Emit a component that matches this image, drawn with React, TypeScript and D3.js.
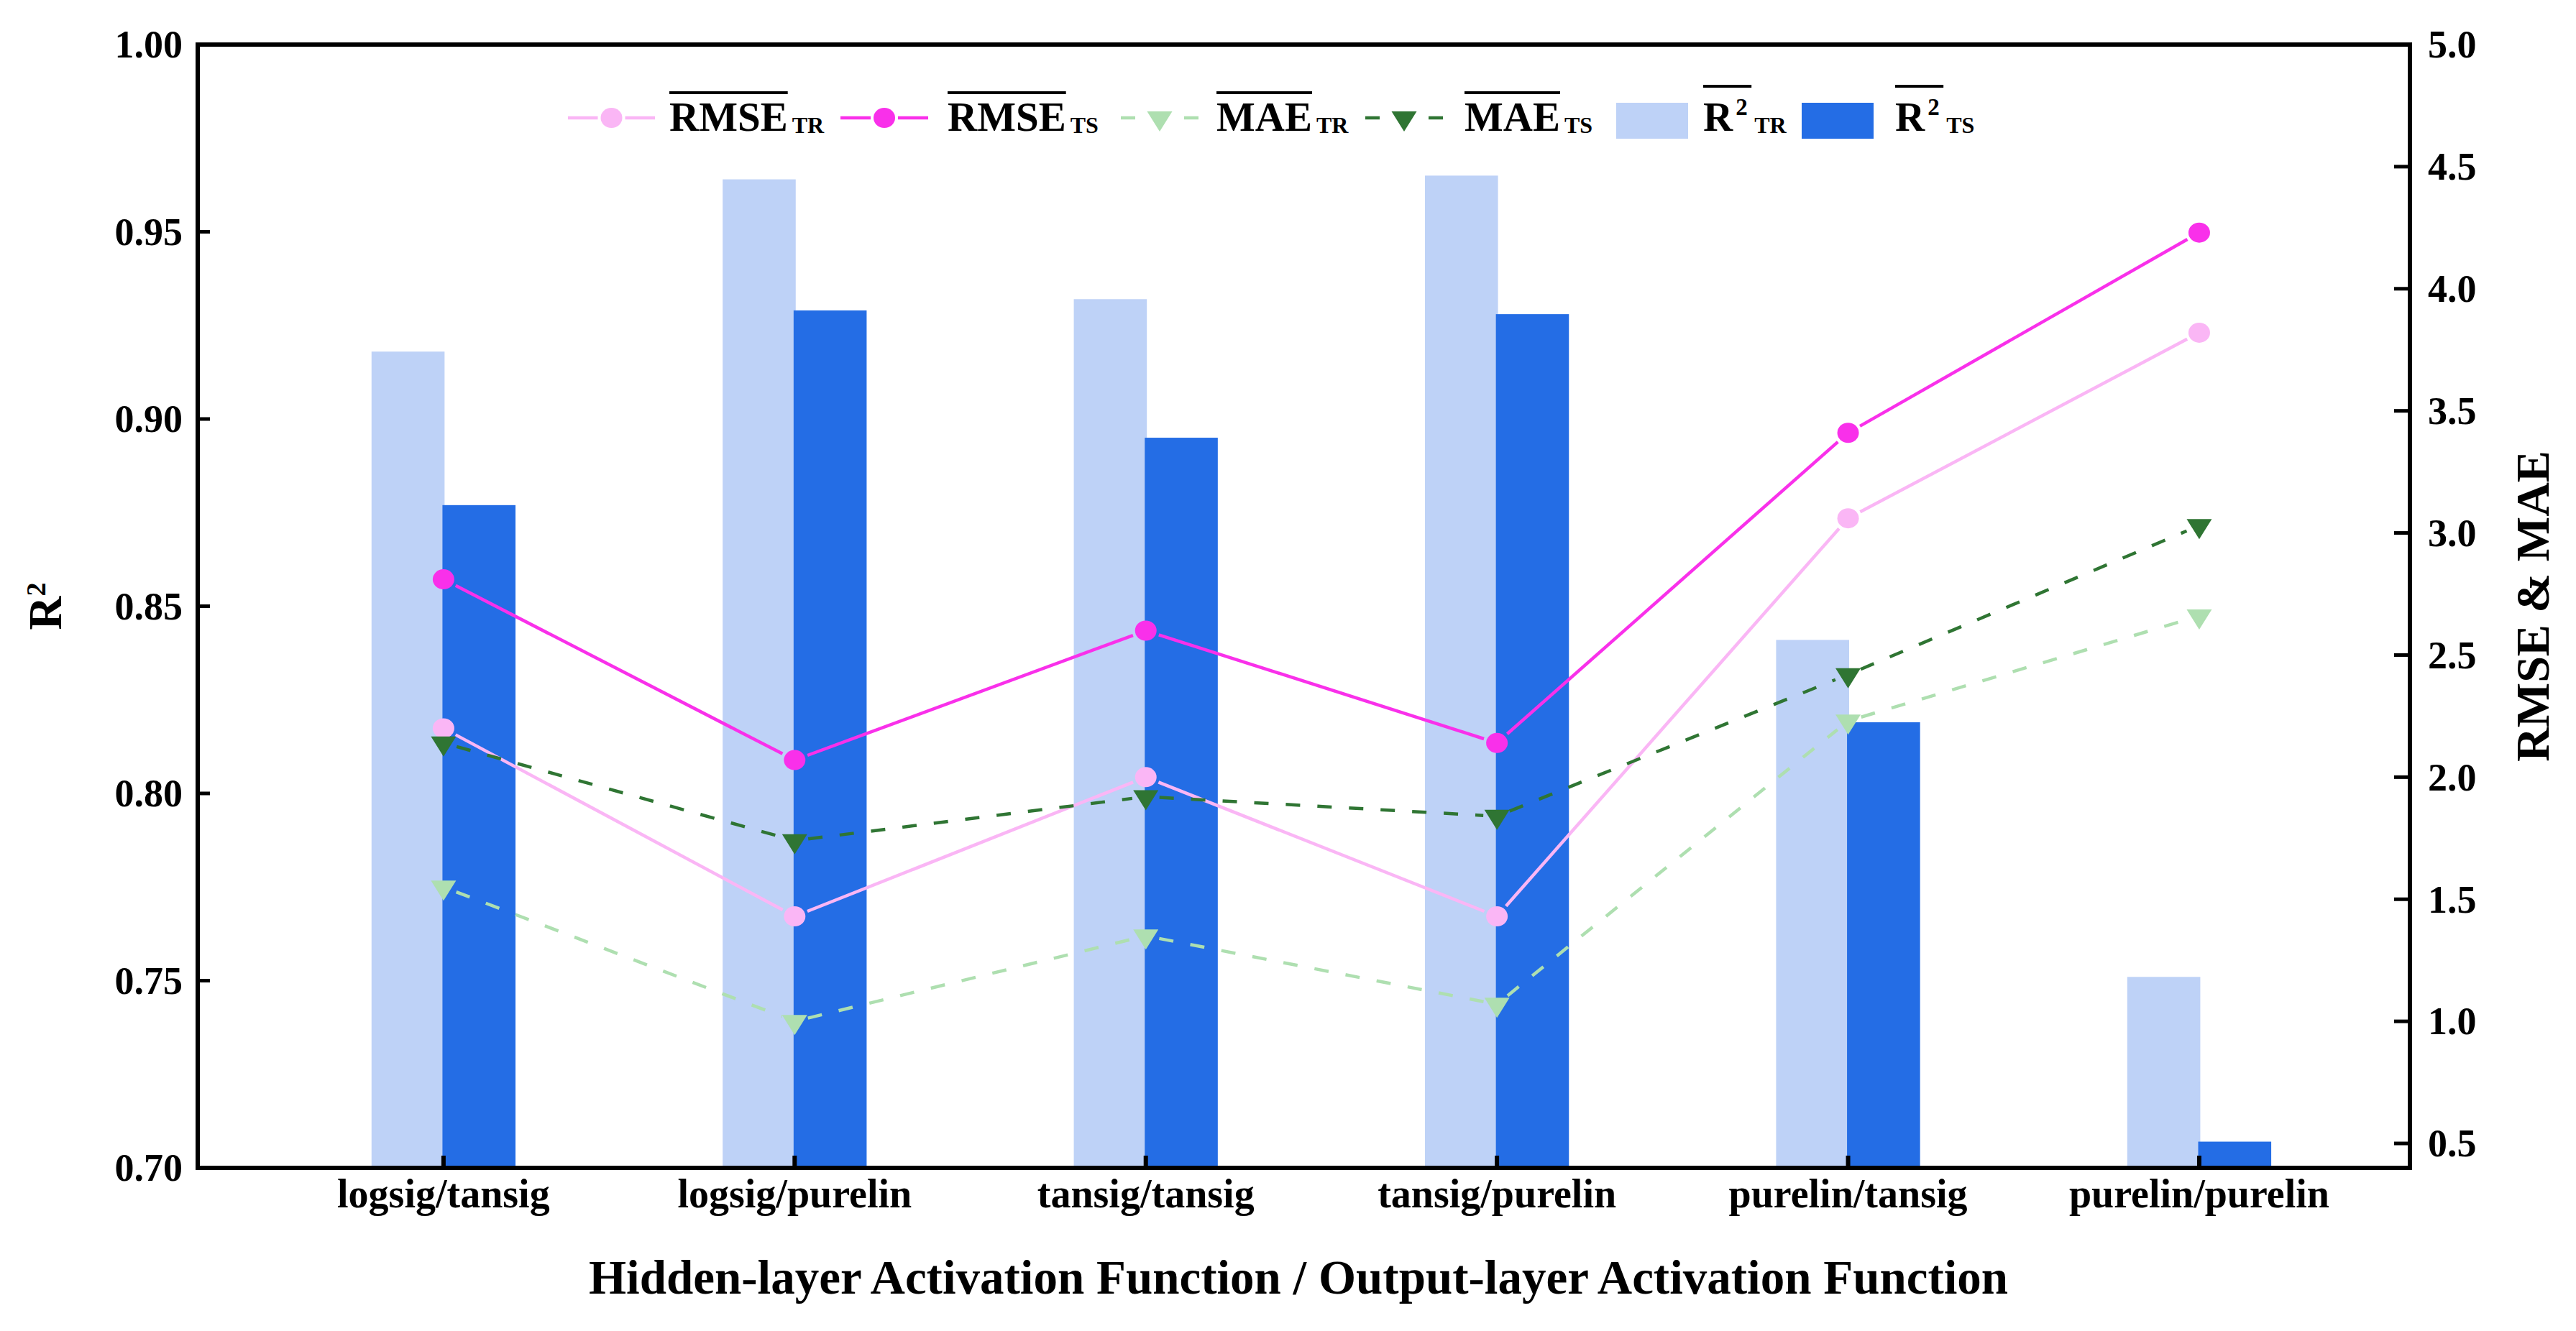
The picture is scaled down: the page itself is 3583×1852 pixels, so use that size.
import React, { useEffect, useRef } from "react";
import * as d3 from "d3";

// ---------- data ----------
const categories = [
  "logsig/tansig",
  "logsig/purelin",
  "tansig/tansig",
  "tansig/purelin",
  "purelin/tansig",
  "purelin/purelin",
];
const r2TR = [0.918, 0.964, 0.932, 0.965, 0.841, 0.751];
const r2TS = [0.877, 0.929, 0.895, 0.928, 0.819, 0.707];
const rmseTR = [2.2, 1.43, 2.0, 1.43, 3.06, 3.82];
const rmseTS = [2.81, 2.07, 2.6, 2.14, 3.41, 4.23];
const maeTR = [1.55, 1.0, 1.35, 1.07, 2.23, 2.66];
const maeTS = [2.14, 1.74, 1.92, 1.84, 2.42, 3.03];
const leftTicks = [0.7, 0.75, 0.8, 0.85, 0.9, 0.95, 1.0];
const rightTicks = [0.5, 1.0, 1.5, 2.0, 2.5, 3.0, 3.5, 4.0, 4.5, 5.0];
const xTitle = "Hidden-layer Activation Function / Output-layer Activation Function";
const yLeftTitle = "R";
const yRightTitle = "RMSE & MAE";

// ---------- layout / style ----------
const W = 3583;
const H = 1852;
const PL = 275, PR = 3352, PT = 62, PB = 1625;
const FONT = "'Liberation Serif','Times New Roman',Times,serif";
const COL = {
  lightBar: "#BED2F7",
  darkBar: "#246DE5",
  pink: "#FAB6F5",
  magenta: "#F930EA",
  lightGreen: "#AEDFB0",
  darkGreen: "#2F7533",
};

export default function App() {
  const ref = useRef<SVGSVGElement>(null);

  useEffect(() => {
    const svg = d3.select(ref.current as SVGSVGElement);
    svg.selectAll("*").remove();

    const x = d3.scaleLinear().domain([0.3, 6.6]).range([PL, PR]);
    const yL = d3.scaleLinear().domain([0.7, 1.0]).range([PB, PT]);
    const yR = d3.scaleLinear().domain([0.4, 5.0]).range([PB, PT]);
    const idx = categories.map((_, i) => i + 1);
    const bw = 0.205;

    svg.append("rect").attr("width", W).attr("height", H).attr("fill", "#fff");

    // bars
    const gb = svg.append("g");
    gb.selectAll("rect.tr")
      .data(r2TR)
      .join("rect")
      .attr("class", "tr")
      .attr("x", (_, i) => x(idx[i] - bw))
      .attr("width", (_, i) => x(idx[i] + 0.003) - x(idx[i] - bw))
      .attr("y", (d) => yL(d))
      .attr("height", (d) => yL(0.7) - yL(d))
      .attr("fill", COL.lightBar);
    gb.selectAll("rect.ts")
      .data(r2TS)
      .join("rect")
      .attr("class", "ts")
      .attr("x", (_, i) => x(idx[i] - 0.003))
      .attr("width", (_, i) => x(idx[i] + bw) - x(idx[i] - 0.003))
      .attr("y", (d) => yL(d))
      .attr("height", (d) => yL(0.7) - yL(d))
      .attr("fill", COL.darkBar);

    // lines
    const GAP = 19;
    const triPath = "M-17.5,-9L17.5,-9L0,19Z";
    const series = [
      { vals: rmseTR, color: COL.pink, dash: null as string | null, shape: "circle" },
      { vals: rmseTS, color: COL.magenta, dash: null as string | null, shape: "circle" },
      { vals: maeTR, color: COL.lightGreen, dash: "20 24", shape: "tri" },
      { vals: maeTS, color: COL.darkGreen, dash: "20 24", shape: "tri" },
    ];
    const lineGen = d3.line();
    series.forEach((s) => {
      const g = svg.append("g");
      const pts: [number, number][] = s.vals.map((v, i) => [x(idx[i]), yR(v)]);
      const segs = d3.pairs(pts).map(([a, b]) => {
        const dx = b[0] - a[0], dy = b[1] - a[1];
        const L = Math.hypot(dx, dy);
        const ux = dx / L, uy = dy / L;
        return [
          [a[0] + ux * GAP, a[1] + uy * GAP],
          [b[0] - ux * GAP, b[1] - uy * GAP],
        ] as [number, number][];
      });
      g.selectAll("path.seg")
        .data(segs)
        .join("path")
        .attr("class", "seg")
        .attr("d", (d) => lineGen(d))
        .attr("fill", "none")
        .attr("stroke", s.color)
        .attr("stroke-width", 4.5)
        .attr("stroke-dasharray", s.dash);
      if (s.shape === "circle") {
        g.selectAll("ellipse")
          .data(pts)
          .join("ellipse")
          .attr("cx", (d) => d[0])
          .attr("cy", (d) => d[1])
          .attr("rx", 15)
          .attr("ry", 14)
          .attr("fill", s.color);
      } else {
        g.selectAll("path.mk")
          .data(pts)
          .join("path")
          .attr("class", "mk")
          .attr("d", triPath)
          .attr("transform", (d) => `translate(${d[0]},${d[1]})`)
          .attr("fill", s.color);
      }
    });

    // frame
    svg.append("rect")
      .attr("x", PL).attr("y", PT)
      .attr("width", PR - PL).attr("height", PB - PT)
      .attr("fill", "none").attr("stroke", "#000").attr("stroke-width", 6);

    // left ticks & labels
    const gl = svg.append("g").attr("font-family", FONT).attr("font-weight", "bold");
    gl.selectAll("line")
      .data(leftTicks)
      .join("line")
      .attr("x1", PL).attr("x2", PL + 17)
      .attr("y1", (d) => yL(d)).attr("y2", (d) => yL(d))
      .attr("stroke", "#000").attr("stroke-width", 5);
    gl.selectAll("text")
      .data(leftTicks)
      .join("text")
      .attr("x", 254)
      .attr("y", (d) => yL(d))
      .attr("dy", "0.34em")
      .attr("text-anchor", "end")
      .attr("font-size", 54)
      .text((d) => d3.format(".2f")(d));

    // right ticks & labels
    const gr = svg.append("g").attr("font-family", FONT).attr("font-weight", "bold");
    gr.selectAll("line")
      .data(rightTicks)
      .join("line")
      .attr("x1", PR).attr("x2", PR - 22)
      .attr("y1", (d) => yR(d)).attr("y2", (d) => yR(d))
      .attr("stroke", "#000").attr("stroke-width", 5);
    gr.selectAll("text")
      .data(rightTicks)
      .join("text")
      .attr("x", 3377)
      .attr("y", (d) => yR(d))
      .attr("dy", "0.34em")
      .attr("text-anchor", "start")
      .attr("font-size", 54)
      .text((d) => d3.format(".1f")(d));

    // bottom ticks & labels
    const gx = svg.append("g").attr("font-family", FONT).attr("font-weight", "bold");
    gx.selectAll("line")
      .data(idx)
      .join("line")
      .attr("x1", (d) => x(d)).attr("x2", (d) => x(d))
      .attr("y1", PB).attr("y2", PB - 17)
      .attr("stroke", "#000").attr("stroke-width", 6);
    gx.selectAll("text")
      .data(categories)
      .join("text")
      .attr("x", (_, i) => x(idx[i]))
      .attr("y", 1680)
      .attr("text-anchor", "middle")
      .attr("font-size", 56)
      .text((d) => d);

    // axis titles
    svg.append("text")
      .attr("x", 819).attr("y", 1800)
      .attr("font-family", FONT).attr("font-weight", "bold").attr("font-size", 67)
      .text(xTitle);

    const lt = svg.append("text")
      .attr("transform", `translate(85,${(PT + PB) / 2}) rotate(-90)`)
      .attr("text-anchor", "middle")
      .attr("font-family", FONT).attr("font-weight", "bold").attr("font-size", 65);
    lt.append("tspan").text(yLeftTitle);
    lt.append("tspan").attr("dy", -22).attr("font-size", 38).text("2");

    svg.append("text")
      .attr("transform", `translate(3545,${(PT + PB) / 2}) rotate(-90)`)
      .attr("text-anchor", "middle")
      .attr("font-family", FONT).attr("font-weight", "bold").attr("font-size", 66)
      .text(yRightTitle);

    // legend
    const lg = svg.append("g").attr("font-family", FONT).attr("font-weight", "bold");
    const LY = 164;
    const legendItems = [
      { kind: "line", s: series[0], x1: 790, x2: 911, tx: 931, main: "RMSE", sub: "TR" },
      { kind: "line", s: series[1], x1: 1169, x2: 1291, tx: 1318, main: "RMSE", sub: "TS" },
      { kind: "line", s: series[2], x1: 1559, x2: 1667, tx: 1692, main: "MAE", sub: "TR" },
      { kind: "line", s: series[3], x1: 1899, x2: 2007, tx: 2037, main: "MAE", sub: "TS" },
      { kind: "bar", color: COL.lightBar, x1: 2248, x2: 2348, tx: 2369, main: "R", sub: "TR" },
      { kind: "bar", color: COL.darkBar, x1: 2506, x2: 2606, tx: 2636, main: "R", sub: "TS" },
    ];
    legendItems.forEach((it: any) => {
      if (it.kind === "line") {
        const m = (it.x1 + it.x2) / 2;
        const segs = [
          [[it.x1, LY], [m - GAP, LY]],
          [[it.x2, LY], [m + GAP, LY]],
        ] as [number, number][][];
        segs.forEach((sg) =>
          lg.append("path")
            .attr("d", lineGen(sg))
            .attr("stroke", it.s.color)
            .attr("stroke-width", 4.5)
            .attr("stroke-dasharray", it.s.dash)
            .attr("fill", "none")
        );
        if (it.s.shape === "circle") {
          lg.append("ellipse").attr("cx", m).attr("cy", LY).attr("rx", 15).attr("ry", 14).attr("fill", it.s.color);
        } else {
          lg.append("path").attr("d", triPath).attr("transform", `translate(${m},${LY})`).attr("fill", it.s.color);
        }
        const t = lg.append("text").attr("x", it.tx).attr("y", 182).attr("font-size", 57).text(it.main);
        const w = (t.node() as SVGTextElement).getComputedTextLength();
        lg.append("line")
          .attr("x1", it.tx).attr("x2", it.tx + w)
          .attr("y1", 129).attr("y2", 129)
          .attr("stroke", "#000").attr("stroke-width", 4);
        lg.append("text").attr("x", it.tx + w + 6).attr("y", 185).attr("font-size", 32).text(it.sub);
      } else {
        lg.append("rect")
          .attr("x", it.x1).attr("y", 143)
          .attr("width", it.x2 - it.x1).attr("height", 50)
          .attr("fill", it.color);
        const t = lg.append("text").attr("x", it.tx).attr("y", 182).attr("font-size", 57).text(it.main);
        const w = (t.node() as SVGTextElement).getComputedTextLength();
        lg.append("text").attr("x", it.tx + w + 4).attr("y", 160).attr("font-size", 33).text("2");
        lg.append("line")
          .attr("x1", it.tx).attr("x2", it.tx + w + 26)
          .attr("y1", 120).attr("y2", 120)
          .attr("stroke", "#000").attr("stroke-width", 4);
        lg.append("text").attr("x", it.tx + w + 30).attr("y", 185).attr("font-size", 32).text(it.sub);
      }
    });
  }, []);

  return (
    <svg
      ref={ref}
      width={W}
      height={H}
      style={{ position: "absolute", left: 0, top: 0, display: "block", background: "#fff" }}
    />
  );
}
